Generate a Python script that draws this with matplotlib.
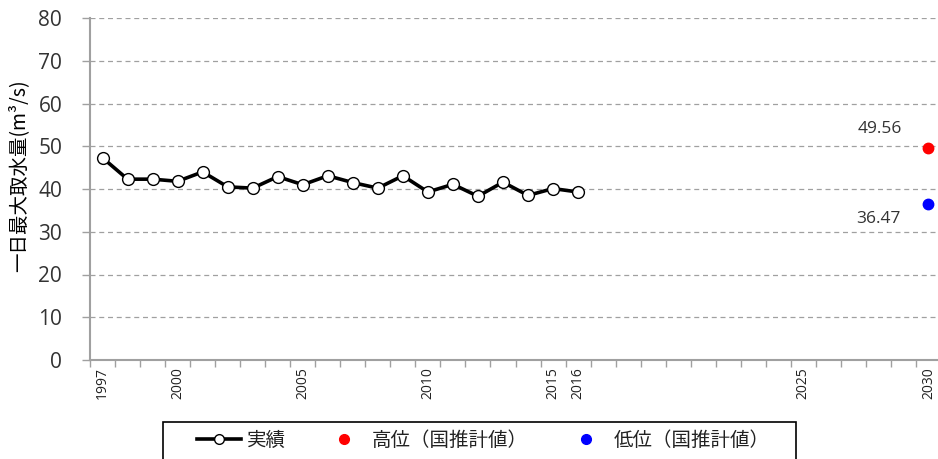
import matplotlib
matplotlib.use("Agg")
import matplotlib.pyplot as plt
from matplotlib.lines import Line2D
from matplotlib.patches import Rectangle
import numpy as np

plt.rcParams['font.family'] = ['Noto Sans CJK JP', 'DejaVu Sans']

years = list(range(1997, 2017))
actual = [47.3, 42.3, 42.3, 41.8, 44.0, 40.5, 40.2, 42.9, 41.0, 43.1,
          41.5, 40.2, 43.1, 39.3, 41.1, 38.3, 41.6, 38.5, 40.1, 39.3]
proj_year = 2030
high_value = 49.56
low_value = 36.47
label_years = [1997, 2000, 2005, 2010, 2015, 2016, 2025, 2030]
y_ticks = [0, 10, 20, 30, 40, 50, 60, 70, 80]
ylabel = "一日最大取水量(m³/s)"
legend_labels = ["実績", "高位（国推計値）", "低位（国推計値）"]

W, H = 938, 459
fig = plt.figure(figsize=(W / 100, H / 100), dpi=100)
ax = fig.add_axes([90 / W, 1 - 360 / H, (941 - 90) / W, (360 - 18) / H])

axis_col = '#a0a0a0'
text_col = '#333333'
num_font = ['Open Sans', 'DejaVu Sans']

ax.plot(years, actual, color='black', lw=2.6, marker='o', markersize=8.5,
        markerfacecolor='white', markeredgecolor='black', markeredgewidth=1.0,
        zorder=3)
ax.plot([proj_year], [high_value], 'o', color='#ff0000', markersize=7.5, zorder=3)
ax.plot([proj_year], [low_value], 'o', color='#0000ff', markersize=7.5, zorder=3)

ax.annotate(f"{high_value:.2f}", (proj_year, high_value), xytext=(-35, 8),
            textcoords='offset points', ha='center', va='bottom',
            fontsize=12.5, color=text_col, family=num_font)
ax.annotate(f"{low_value:.2f}", (proj_year, low_value), xytext=(-36, -5),
            textcoords='offset points', ha='center', va='top',
            fontsize=12.5, color=text_col, family=num_font)

ax.set_xlim(1996.5, 2030.5)
ax.set_ylim(0, 80)

# y axis
ax.set_yticks(y_ticks)
ax.set_yticklabels([str(v) for v in y_ticks], family=num_font,
                   fontsize=15, color=text_col)
ax.yaxis.grid(True, linestyle=(0, (4, 3)), color='#a0a0a0', lw=0.9)
ax.set_axisbelow(True)
ax.tick_params(axis='y', direction='out', length=6, width=1, color=axis_col, pad=14)

# x axis: tick marks at category boundaries, labels at centers
boundaries = np.arange(1996.5, 2031.0, 1.0)
ax.set_xticks(boundaries)
ax.set_xticklabels([])
ax.tick_params(axis='x', which='major', direction='out', length=5, width=1, color=axis_col)
ax.set_xticks(label_years, minor=True)
ax.set_xticklabels([str(y) for y in label_years], minor=True, rotation=90,
                   fontsize=10, color='#222222', family=num_font)
ax.tick_params(axis='x', which='minor', length=0, pad=5)

for s in ['top', 'right']:
    ax.spines[s].set_visible(False)
for s in ['left', 'bottom']:
    ax.spines[s].set_color(axis_col)
    ax.spines[s].set_linewidth(1.5)

ax.set_ylabel(ylabel, fontsize=14, color='black')
ax.yaxis.set_label_coords(-61 / 851, (360 - 176) / 342)

# legend frame (extends below the figure edge as in the reference)
fig.patches.append(Rectangle((163 / W, -0.05), (796 - 163) / W, 0.05 + (459 - 422) / H,
                             transform=fig.transFigure, fill=False,
                             edgecolor='black', lw=1.2))

handles = [
    Line2D([], [], color='black', lw=2.6, marker='o', markersize=7,
           markerfacecolor='white', markeredgecolor='black'),
    Line2D([], [], ls='none', marker='o', color='#ff0000', markersize=7),
    Line2D([], [], ls='none', marker='o', color='#0000ff', markersize=7),
]
leg = fig.legend(handles, legend_labels, loc='center',
                 bbox_to_anchor=(483 / W, 1 - 440 / H), ncol=3, frameon=False,
                 fontsize=14, handlelength=2.27, columnspacing=1.85,
                 borderpad=0, borderaxespad=0, handletextpad=0.3)
for t in leg.get_texts():
    t.set_color('#222222')

fig.savefig("out.png", dpi=100)
